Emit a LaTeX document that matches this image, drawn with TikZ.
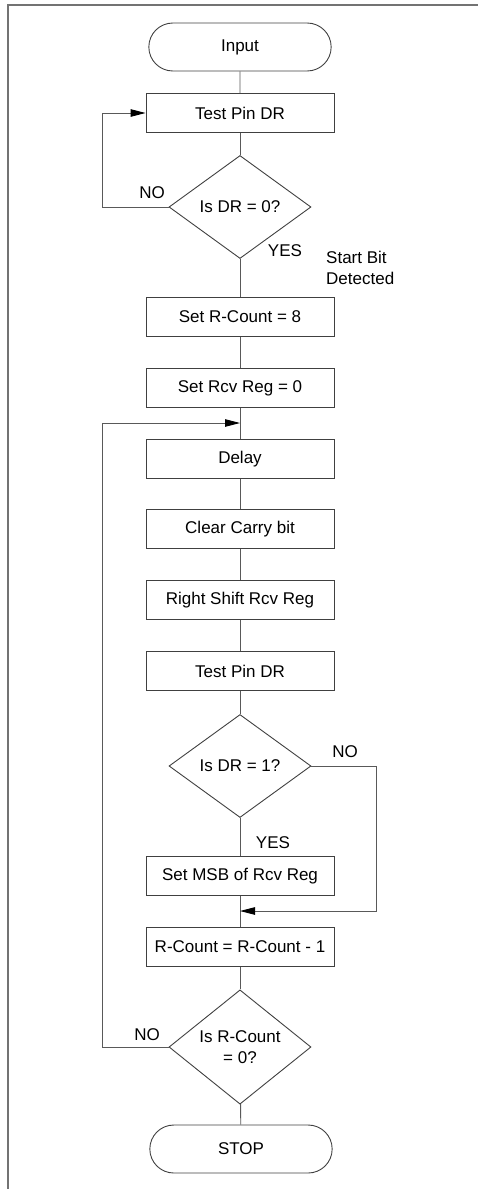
\documentclass[tikz,border=0pt]{standalone}
\usepackage{fontspec}
\setmainfont{Liberation Sans}
\usepackage{tikz}
\usetikzlibrary{arrows.meta, positioning, shapes.geometric, shapes.misc}

\begin{document}
\begin{tikzpicture}[x=1pt, y=-1pt,
    font=\fontsize{17}{21}\selectfont,
    procbox/.style={draw=black!75, line width=0.9pt, rectangle,
                    minimum width=188pt, minimum height=39pt, inner sep=2pt},
    termbox/.style={draw=black!75, line width=0.9pt, rounded rectangle,
                    minimum width=189pt, minimum height=48pt},
    decbox/.style={draw=black!75, line width=0.9pt, diamond, align=center,
                   minimum width=142pt, minimum height=103pt, inner sep=0pt},
    flow/.style={draw=black!65, line width=0.9pt},
    flowarr/.style={flow, -{Triangle[length=15pt, width=7.5pt, black]}},
    tag/.style={inner sep=0pt}]
    \useasboundingbox (0,0) rectangle (478,1189);

    % frame
    \draw[black!55, line width=1.5pt] (478,5) -- (8,5) -- (8,1189);

    % flow steps
    \node[termbox] (input)  at (240,47)   {Input};
    \node[procbox] (test1)  at (240,113)  {Test Pin DR};
    \node[decbox]  (dec1)   at (240,207)  {Is DR = 0?};
    \node[procbox] (setcnt) at (240,317)  {Set R-Count = 8};
    \node[procbox] (clrreg) at (240,388)  {Set Rcv Reg = 0};
    \node[procbox] (delay)  at (240,459)  {Delay};
    \node[procbox] (clrc)   at (240,529)  {Clear Carry bit};
    \node[procbox] (shift)  at (240,600)  {Right Shift Rcv Reg};
    \node[procbox] (test2)  at (240,671)  {Test Pin DR};
    \node[decbox]  (dec2)   at (240,766)  {Is DR = 1?};
    \node[procbox] (setmsb) at (240,876)  {Set MSB of Rcv Reg};
    \node[procbox] (deccnt) at (240,947)  {R-Count = R-Count - 1};
    \node[decbox]  (dec3)   at (240,1047) {Is R-Count\\= 0?};
    \node[termbox] (stop)   at (241,1149) {STOP};

    % merge points on the main line
    \coordinate (joinA) at (240,423);
    \coordinate (joinB) at (240,911);

    % main line
    \draw[flow] (input) -- (test1);
    \draw[flow] (test1) -- (dec1);
    \draw[flow] (dec1) -- (setcnt);
    \draw[flow] (setcnt) -- (clrreg);
    \draw[flow] (clrreg) -- (delay);
    \draw[flow] (delay) -- (clrc);
    \draw[flow] (clrc) -- (shift);
    \draw[flow] (shift) -- (test2);
    \draw[flow] (test2) -- (dec2);
    \draw[flow] (dec2) -- (setmsb);
    \draw[flow] (setmsb) -- (deccnt);
    \draw[flow] (deccnt) -- (dec3);
    \draw[flow] (dec3) -- (stop);

    % loops back
    \draw[flowarr] (dec1.west) -- ++(-66,0) |- (test1.west);
    \draw[flowarr] (dec2.east) -- ++(65,0) |- (joinB);
    \draw[flowarr] (dec3.west) -- ++(-66,0) |- (joinA);

    % branch labels
    \node[tag] (no1)  at (152,193) {NO};
    \node[tag] (yes1) at (285,251) {YES};
    \node[tag, anchor=west, align=left] (startbit) at (326,268) {Start Bit\\Detected};
    \node[tag] (no2)  at (345,752) {NO};
    \node[tag] (yes2) at (273,843) {YES};
    \node[tag] (no3)  at (147,1035) {NO};
\end{tikzpicture}
\end{document}
